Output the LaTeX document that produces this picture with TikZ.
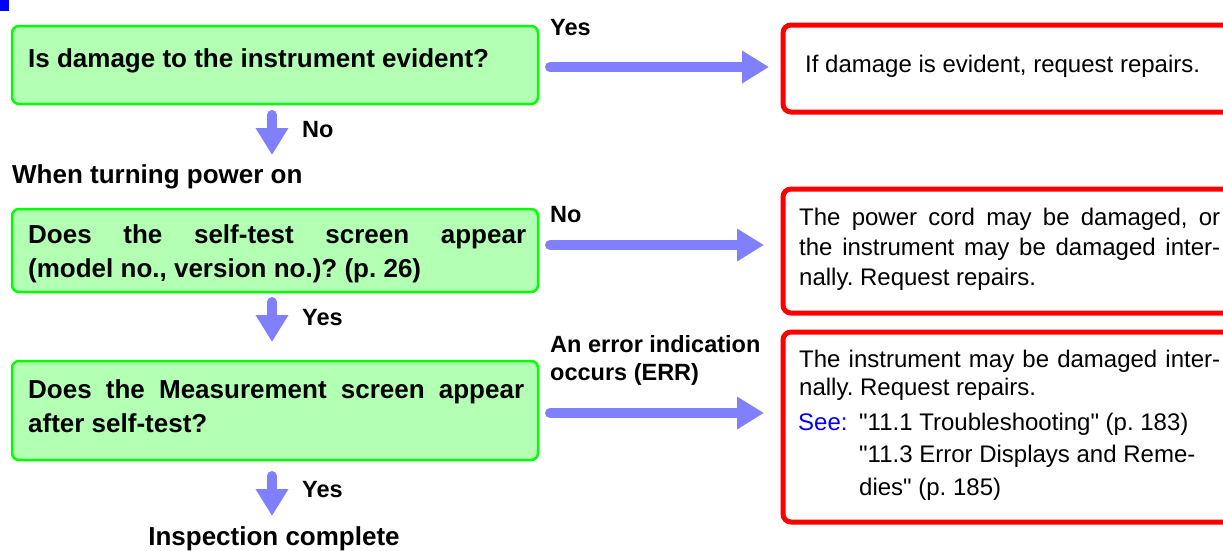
\documentclass[tikz,border=0pt]{standalone}
\usepackage{fontspec}
\setmainfont{Liberation Sans}
\newfontfamily\rawsans{Liberation Sans}
\usetikzlibrary{arrows.meta,calc}
\definecolor{arrowblue}{HTML}{8080FF}
\definecolor{boxgreen}{HTML}{B3FFB3}
\definecolor{linegreen}{HTML}{00FF00}
\definecolor{seeblue}{HTML}{0000FF}
\frenchspacing
\begin{document}
\begin{tikzpicture}[x=1pt,y=-1pt,
  qbox/.style={draw=linegreen, fill=boxgreen, line width=2.5pt, rounded corners=7pt, inner sep=0pt, outer sep=0pt, anchor=north west, minimum width=526pt},
  rbox/.style={draw=red, line width=5pt, rounded corners=8pt, inner sep=0pt, outer sep=0pt, anchor=north west, minimum width=480pt},
  flow/.style={draw=arrowblue, line width=10pt, line cap=round, -{Triangle[width=31pt,length=27pt]}},
  qtext/.style={anchor=base west, inner sep=0pt, font=\fontsize{26}{34}\selectfont\bfseries},
  lbl/.style={anchor=base west, inner sep=0pt, font=\fontsize{23.5}{28}\selectfont\bfseries},
  rtext/.style={anchor=base west, inner sep=0pt, font=\fontsize{24}{30}\selectfont},
]
\useasboundingbox (0,0) rectangle (1223,550);
\clip (0,0) rectangle (1223,550);

\fill[seeblue] (0,0) rectangle (9,11);

% boxes
\node[qbox, minimum height=78pt] (b1) at (12,26) {};
\node[qbox, minimum height=83pt] (b2) at (12,209) {};
\node[qbox, minimum height=99pt] (b3) at (12,361) {};
\node[rbox, minimum height=87pt] (r1) at (783,25) {};
\node[rbox, minimum height=124pt] (r2) at (783,189) {};
\node[rbox, minimum height=190pt] (r3) at (783,332) {};

% question texts
\node[qtext] (t1) at (28,67) {Is damage to the instrument evident?};
\node[qtext] (t2) at (28,243) {\vtop{\hbox to 498pt{Does the self-test screen appear}\hbox{(model no., version no.)? (p. 26)}}};
\node[qtext] (t3) at (28,398) {\vtop{\hbox to 496pt{Does the Measurement screen appear}\hbox{after self-test?}}};

% labels
\node[lbl] (yes1) at (550,35) {Yes};
\node[lbl] (no1) at (302,137) {No};
\node[qtext] (when) at (12,183) {When turning power on};
\node[lbl] (no2) at (550,222) {No};
\node[lbl] (yes2) at (302,325) {Yes};
\node[lbl] (err) at (550,352) {\vtop{\hbox{An error indication}\hbox{occurs (ERR)}}};
\node[lbl] (yes3) at (302,497) {Yes};
\node[qtext, anchor=base] (done) at (274,545) {Inspection complete};

% remedy texts
\node[rtext] (rt1) at (805,72) {If damage is evident, request repairs.};
\node[rtext] (rt2) at (799,225) {\vtop{\hbox to 421pt{The power cord may be damaged, or}\hbox to 421pt{the instrument may be damaged inter-}\hbox{nally. Request repairs.}}};
\node[rtext, font=\fontsize{24}{28}\selectfont] (rt3) at (799,367) {\vtop{\hbox to 421pt{The instrument may be damaged inter-}\hbox{nally. Request repairs.}}};
\node[rtext, text=seeblue] (see) at (798,430) {See:};
\node[rtext, font=\fontsize{24}{32.5}\selectfont\rawsans] (refs) at (859,430) {\vtop{\hbox{"11.1 Troubleshooting" (p. 183)}\hbox{"11.3 Error Displays and Reme-}\hbox{dies" (p. 185)}}};

% connectors
\coordinate (v1) at (272,155);
\coordinate (v3) at (272,516);
\draw[flow] ($(b1.east)+(12,2)$) -- ($(b1.east -| r1.west)+(-14,2)$);
\draw[flow] ($(b2.east)+(12,-5.5)$) -- ($(b2.east -| r2.west)+(-19,-5.5)$);
\draw[flow] ($(b3.east)+(12,2.5)$) -- ($(b3.east -| r3.west)+(-19,2.5)$);
\draw[flow] ($(b1.south)+(-3,11)$) -- (v1);
\draw[flow] ($(b2.south)+(-3,10)$) -- ($(b3.north)+(-3,-19)$);
\draw[flow] ($(b3.south)+(-3,16)$) -- (v3);
\end{tikzpicture}
\end{document}
